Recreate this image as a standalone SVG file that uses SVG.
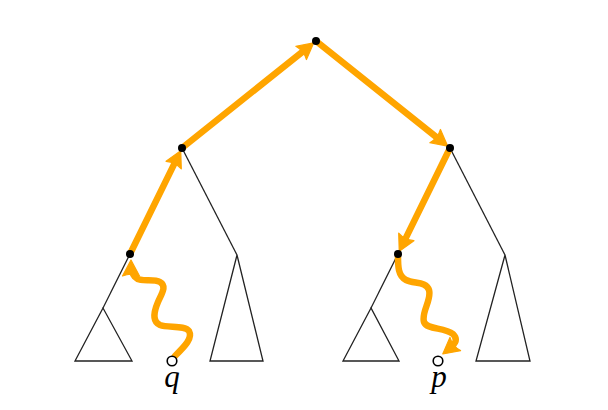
<svg xmlns="http://www.w3.org/2000/svg" width="608" height="410" viewBox="0 0 608 410">
<style>
.edge{stroke:#222;stroke-width:1.3;fill:none;stroke-linejoin:miter}
.path{stroke:#FFA500;stroke-width:6.5;fill:none;stroke-linecap:round;stroke-linejoin:round}
.dot{fill:#000}
.leaf{fill:#fff;stroke:#000;stroke-width:1.6}
.lbl{font-family:"Liberation Serif","DejaVu Serif",serif;font-style:italic;font-size:31px;fill:#000;text-anchor:middle}
</style>
<defs>
<marker id="ah" viewBox="-24 -10 28 20" refX="-8" refY="0" markerWidth="28" markerHeight="20" markerUnits="userSpaceOnUse" orient="auto">
<path d="M-16,-8.5 L0,0 L-16,8.5 Q-12.5,0 -16,-8.5 Z" fill="#FFA500" stroke="#FFA500" stroke-width="1.2" stroke-linejoin="round"/>
</marker>
</defs>
<rect width="608" height="410" fill="#fff"/>
<g id="tree-edges">
<line class="edge" x1="316" y1="41" x2="182" y2="148"/>
<line class="edge" x1="316" y1="41" x2="450" y2="148"/>
<line class="edge" x1="182" y1="148" x2="130" y2="254"/>
<line class="edge" x1="182" y1="148" x2="237" y2="255"/>
<line class="edge" x1="130" y1="254" x2="103" y2="308"/>
<line class="edge" x1="450" y1="148" x2="398" y2="254"/>
<line class="edge" x1="450" y1="148" x2="505" y2="255"/>
<line class="edge" x1="398" y1="254" x2="371" y2="308"/>
</g>
<g id="subtree-a"><polygon class="edge" points="103,308 75,361 132,361"/></g>
<g id="subtree-b"><polygon class="edge" points="237,255 210,361 263,361"/></g>
<g id="subtree-c"><polygon class="edge" points="371,308 343,361 399,361"/></g>
<g id="subtree-d"><polygon class="edge" points="505,255 476,361 530,361"/></g>
<g id="connectors">
<path class="path" marker-end="url(#ah)" d="M175,356 C185,346 193,338 189,331 C185,325 168,328 160,325 C151,321 155,309 158,302 C162,293 167,286 160,282 C153,278 140,283 135,277 C132,273 131,271 131,268"/>
<line class="path" marker-end="url(#ah)" x1="130" y1="254" x2="177.2" y2="157.9"/>
<line class="path" marker-end="url(#ah)" x1="182" y1="148" x2="307.4" y2="47.9"/>
<line class="path" marker-end="url(#ah)" x1="316" y1="41" x2="441.4" y2="141.1"/>
<line class="path" marker-end="url(#ah)" x1="450" y1="148" x2="402.8" y2="244.1"/>
<path class="path" marker-end="url(#ah)" d="M398,256 C398,266 398,276 406,280 C414,284 426,281 429,290 C432,300 421,312 424,322 C427,330 444,327 453,334 C459,340 454,345 449,349"/>
</g>
<g id="node-root"><circle class="dot" cx="316" cy="41" r="4"/></g>
<g id="node-l"><circle class="dot" cx="182" cy="148" r="4"/></g>
<g id="node-r"><circle class="dot" cx="450" cy="148" r="4"/></g>
<g id="node-ll"><circle class="dot" cx="130" cy="254" r="4"/></g>
<g id="node-rl"><circle class="dot" cx="398" cy="254" r="4"/></g>
<g id="node-q"><circle class="leaf" cx="172" cy="361" r="4.8"/><text class="lbl" x="172" y="387">q</text></g>
<g id="node-p"><circle class="leaf" cx="438" cy="361" r="4.8"/><text class="lbl" x="439" y="387">p</text></g>
</svg>
